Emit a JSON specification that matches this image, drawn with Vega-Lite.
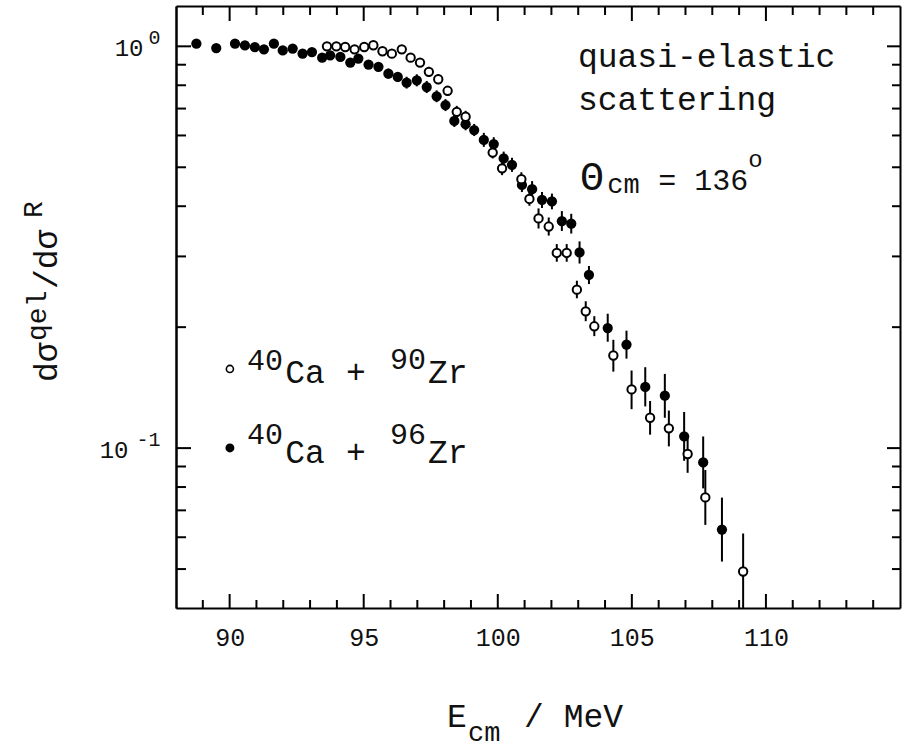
{
  "$schema": "https://vega.github.io/schema/vega-lite/v6.json",
  "width": 724,
  "height": 602,
  "autosize": {"type": "none"},
  "padding": {"left": 176, "top": 6, "right": 2, "bottom": 141},
  "background": "white",
  "config": {
    "view": {"stroke": null},
    "axis": {"grid": false, "domainColor": "#000", "domainWidth": 2, "tickColor": "#000", "tickWidth": 2, "labelFont": "Liberation Mono", "labelColor": "#111"},
    "text": {"font": "Liberation Mono", "color": "#111"}
  },
  "datasets": {
    "pts": [
      {"E":88.76,"R":1.015,"lo":1.015,"hi":1.015,"s":"96"},
      {"E":89.5,"R":0.99,"lo":0.99,"hi":0.99,"s":"96"},
      {"E":90.2,"R":1.015,"lo":0.998,"hi":1.033,"s":"96"},
      {"E":90.57,"R":1.005,"lo":0.988,"hi":1.022,"s":"96"},
      {"E":90.94,"R":0.996,"lo":0.979,"hi":1.013,"s":"96"},
      {"E":91.28,"R":0.983,"lo":0.966,"hi":1.0,"s":"96"},
      {"E":91.65,"R":1.015,"lo":0.998,"hi":1.033,"s":"96"},
      {"E":91.98,"R":0.977,"lo":0.96,"hi":0.994,"s":"96"},
      {"E":92.35,"R":0.987,"lo":0.97,"hi":1.004,"s":"96"},
      {"E":92.72,"R":0.959,"lo":0.943,"hi":0.976,"s":"96"},
      {"E":93.07,"R":0.968,"lo":0.952,"hi":0.985,"s":"96"},
      {"E":93.45,"R":0.937,"lo":0.921,"hi":0.953,"s":"96"},
      {"E":93.75,"R":0.95,"lo":0.934,"hi":0.966,"s":"96"},
      {"E":94.13,"R":0.941,"lo":0.92,"hi":0.963,"s":"96"},
      {"E":94.5,"R":0.911,"lo":0.89,"hi":0.932,"s":"96"},
      {"E":94.8,"R":0.932,"lo":0.911,"hi":0.954,"s":"96"},
      {"E":95.18,"R":0.901,"lo":0.881,"hi":0.922,"s":"96"},
      {"E":95.55,"R":0.889,"lo":0.869,"hi":0.91,"s":"96"},
      {"E":95.92,"R":0.855,"lo":0.831,"hi":0.88,"s":"96"},
      {"E":96.27,"R":0.839,"lo":0.815,"hi":0.863,"s":"96"},
      {"E":96.6,"R":0.812,"lo":0.785,"hi":0.84,"s":"96"},
      {"E":96.98,"R":0.823,"lo":0.795,"hi":0.852,"s":"96"},
      {"E":97.35,"R":0.792,"lo":0.765,"hi":0.82,"s":"96"},
      {"E":97.72,"R":0.751,"lo":0.726,"hi":0.777,"s":"96"},
      {"E":98.05,"R":0.714,"lo":0.69,"hi":0.739,"s":"96"},
      {"E":98.38,"R":0.652,"lo":0.63,"hi":0.675,"s":"96"},
      {"E":98.8,"R":0.64,"lo":0.618,"hi":0.662,"s":"96"},
      {"E":99.12,"R":0.619,"lo":0.598,"hi":0.641,"s":"96"},
      {"E":99.48,"R":0.585,"lo":0.562,"hi":0.609,"s":"96"},
      {"E":99.85,"R":0.571,"lo":0.549,"hi":0.594,"s":"96"},
      {"E":100.22,"R":0.526,"lo":0.505,"hi":0.547,"s":"96"},
      {"E":100.53,"R":0.507,"lo":0.487,"hi":0.528,"s":"96"},
      {"E":100.9,"R":0.452,"lo":0.434,"hi":0.47,"s":"96"},
      {"E":101.28,"R":0.441,"lo":0.421,"hi":0.462,"s":"96"},
      {"E":101.65,"R":0.415,"lo":0.396,"hi":0.434,"s":"96"},
      {"E":102.02,"R":0.411,"lo":0.393,"hi":0.43,"s":"96"},
      {"E":102.39,"R":0.367,"lo":0.347,"hi":0.389,"s":"96"},
      {"E":102.74,"R":0.362,"lo":0.342,"hi":0.383,"s":"96"},
      {"E":103.05,"R":0.307,"lo":0.288,"hi":0.327,"s":"96"},
      {"E":103.4,"R":0.27,"lo":0.256,"hi":0.284,"s":"96"},
      {"E":104.1,"R":0.199,"lo":0.184,"hi":0.216,"s":"96"},
      {"E":104.8,"R":0.181,"lo":0.167,"hi":0.196,"s":"96"},
      {"E":105.5,"R":0.142,"lo":0.127,"hi":0.159,"s":"96"},
      {"E":106.23,"R":0.135,"lo":0.119,"hi":0.153,"s":"96"},
      {"E":106.95,"R":0.107,"lo":0.093,"hi":0.123,"s":"96"},
      {"E":107.66,"R":0.0921,"lo":0.0794,"hi":0.1069,"s":"96"},
      {"E":108.36,"R":0.0627,"lo":0.0522,"hi":0.0753,"s":"96"},
      {"E":93.63,"R":1.0,"lo":0.983,"hi":1.017,"s":"90"},
      {"E":93.98,"R":1.0,"lo":0.983,"hi":1.017,"s":"90"},
      {"E":94.31,"R":0.996,"lo":0.979,"hi":1.013,"s":"90"},
      {"E":94.66,"R":0.983,"lo":0.966,"hi":1.0,"s":"90"},
      {"E":95.02,"R":0.996,"lo":0.979,"hi":1.013,"s":"90"},
      {"E":95.36,"R":1.006,"lo":0.989,"hi":1.023,"s":"90"},
      {"E":95.7,"R":0.972,"lo":0.95,"hi":0.994,"s":"90"},
      {"E":96.05,"R":0.959,"lo":0.937,"hi":0.981,"s":"90"},
      {"E":96.42,"R":0.983,"lo":0.961,"hi":1.006,"s":"90"},
      {"E":96.75,"R":0.937,"lo":0.916,"hi":0.959,"s":"90"},
      {"E":97.1,"R":0.911,"lo":0.89,"hi":0.932,"s":"90"},
      {"E":97.43,"R":0.864,"lo":0.84,"hi":0.889,"s":"90"},
      {"E":97.78,"R":0.828,"lo":0.805,"hi":0.852,"s":"90"},
      {"E":98.13,"R":0.775,"lo":0.753,"hi":0.797,"s":"90"},
      {"E":98.47,"R":0.687,"lo":0.664,"hi":0.711,"s":"90"},
      {"E":98.8,"R":0.668,"lo":0.645,"hi":0.691,"s":"90"},
      {"E":99.81,"R":0.544,"lo":0.526,"hi":0.563,"s":"90"},
      {"E":100.16,"R":0.497,"lo":0.478,"hi":0.517,"s":"90"},
      {"E":100.88,"R":0.467,"lo":0.449,"hi":0.486,"s":"90"},
      {"E":101.18,"R":0.417,"lo":0.401,"hi":0.434,"s":"90"},
      {"E":101.52,"R":0.373,"lo":0.352,"hi":0.395,"s":"90"},
      {"E":101.9,"R":0.356,"lo":0.338,"hi":0.375,"s":"90"},
      {"E":102.2,"R":0.306,"lo":0.291,"hi":0.322,"s":"90"},
      {"E":102.57,"R":0.306,"lo":0.291,"hi":0.322,"s":"90"},
      {"E":102.95,"R":0.248,"lo":0.236,"hi":0.261,"s":"90"},
      {"E":103.28,"R":0.219,"lo":0.207,"hi":0.232,"s":"90"},
      {"E":103.6,"R":0.201,"lo":0.19,"hi":0.213,"s":"90"},
      {"E":104.31,"R":0.17,"lo":0.155,"hi":0.186,"s":"90"},
      {"E":104.99,"R":0.14,"lo":0.125,"hi":0.156,"s":"90"},
      {"E":105.68,"R":0.119,"lo":0.108,"hi":0.131,"s":"90"},
      {"E":106.38,"R":0.112,"lo":0.101,"hi":0.124,"s":"90"},
      {"E":107.08,"R":0.0967,"lo":0.0868,"hi":0.1078,"s":"90"},
      {"E":107.74,"R":0.0754,"lo":0.0644,"hi":0.0882,"s":"90"},
      {"E":109.15,"R":0.0493,"lo":0.0397,"hi":0.0613,"s":"90"}
    ],
    "xTicks": [
      {"v":89,"k":"minor"},{"v":90,"k":"major"},{"v":91,"k":"minor"},{"v":92,"k":"minor"},{"v":93,"k":"minor"},{"v":94,"k":"minor"},
      {"v":95,"k":"major"},{"v":96,"k":"minor"},{"v":97,"k":"minor"},{"v":98,"k":"minor"},{"v":99,"k":"minor"},
      {"v":100,"k":"major"},{"v":101,"k":"minor"},{"v":102,"k":"minor"},{"v":103,"k":"minor"},{"v":104,"k":"minor"},
      {"v":105,"k":"major"},{"v":106,"k":"minor"},{"v":107,"k":"minor"},{"v":108,"k":"minor"},{"v":109,"k":"minor"},
      {"v":110,"k":"major"},{"v":111,"k":"minor"},{"v":112,"k":"minor"},{"v":113,"k":"minor"},{"v":114,"k":"minor"}
    ],
    "yTicks": [
      {"v":0.05,"k":"minor"},{"v":0.06,"k":"minor"},{"v":0.07,"k":"minor"},{"v":0.08,"k":"minor"},{"v":0.09,"k":"minor"},
      {"v":0.1,"k":"major"},{"v":0.2,"k":"minor"},{"v":0.3,"k":"minor"},{"v":0.4,"k":"minor"},{"v":0.5,"k":"minor"},
      {"v":0.6,"k":"minor"},{"v":0.7,"k":"minor"},{"v":0.8,"k":"minor"},{"v":0.9,"k":"minor"},{"v":1,"k":"major"}
    ],
    "bigText": [
      {"x":102.99,"y":0.888,"t":"quasi-elastic"},
      {"x":102.99,"y":0.694,"t":"scattering"},
      {"x":92.07,"y":0.1453,"t":"Ca"},
      {"x":94.34,"y":0.1453,"t":"+"},
      {"x":97.4,"y":0.1453,"t":"Zr"},
      {"x":92.07,"y":0.09184,"t":"Ca"},
      {"x":94.34,"y":0.09184,"t":"+"},
      {"x":97.4,"y":0.09184,"t":"Zr"},
      {"x":98.11,"y":0.0202,"t":"E"},
      {"x":100.98,"y":0.0202,"t":"/ MeV"}
    ],
    "midText": [
      {"x":90.65,"y":0.1565,"t":"40"},
      {"x":95.98,"y":0.1575,"t":"90"},
      {"x":90.65,"y":0.1022,"t":"40"},
      {"x":95.98,"y":0.1025,"t":"96"},
      {"x":105.98,"y":0.4389,"t":"= 136"}
    ],
    "theta": [{"x":103.07,"y":0.4389,"t":"Θ"}],
    "subText": [
      {"x":104.08,"y":0.4315,"t":"cm"},
      {"x":98.89,"y":0.01863,"t":"cm"}
    ],
    "degText": [{"x":109.34,"y":0.5008,"t":"o"}],
    "yTitleBig": [
      {"x":83.56,"y":0.1461,"t":"dσ"},
      {"x":83.56,"y":0.2489,"t":"/dσ"}
    ],
    "yTitleSup": [
      {"x":83.15,"y":0.1848,"t":"qel"},
      {"x":83.0,"y":0.374,"t":"R"}
    ],
    "legOpen": [{"x":90.01,"y":0.1574,"series":"40Ca + 90Zr"}],
    "legFilled": [{"x":90.01,"y":0.1001,"series":"40Ca + 96Zr"}]
  },
  "layer": [
    {
      "data": {"name": "xTicks"},
      "transform": [{"filter": "datum.k == 'major'"}],
      "mark": {"type": "rule", "color": "#000", "strokeWidth": 2, "y2Offset": -14},
      "encoding": {
        "x": {"field": "v", "type": "quantitative", "scale": {"type": "linear", "domain": [88, 115], "nice": false, "zero": false},
              "axis": {"orient": "bottom", "values": [90, 95, 100, 105, 110], "ticks": false, "labelPadding": 17, "labelFontSize": 25, "title": null}},
        "y": {"datum": 0.04, "type": "quantitative", "scale": {"type": "log", "domain": [0.04, 1.26], "nice": false},
              "axis": {"orient": "left", "values": [1], "ticks": false, "labelExpr": "'10'", "labelPadding": 33, "labelFontSize": 24, "labelOffset": 2, "title": null}},
        "y2": {"datum": 0.04}
      }
    },
    {
      "data": {"name": "xTicks"},
      "transform": [{"filter": "datum.k == 'minor'"}],
      "mark": {"type": "rule", "color": "#000", "strokeWidth": 2, "y2Offset": -8},
      "encoding": {
        "x": {"field": "v", "type": "quantitative",
              "axis": {"orient": "top", "values": [90, 110], "ticks": false, "labels": false, "domain": true, "title": null}},
        "y": {"datum": 0.04, "type": "quantitative",
              "axis": {"orient": "left", "values": [0.1], "ticks": false, "labelExpr": "'10'", "labelPadding": 48, "labelFontSize": 24, "labelOffset": 2, "title": null}},
        "y2": {"datum": 0.04}
      }
    },
    {
      "data": {"name": "xTicks"},
      "transform": [{"filter": "datum.k == 'major'"}],
      "mark": {"type": "rule", "color": "#000", "strokeWidth": 2, "y2Offset": 15},
      "encoding": {
        "x": {"field": "v", "type": "quantitative", "axis": null},
        "y": {"datum": 1.26, "type": "quantitative",
              "axis": {"orient": "left", "values": [0.1, 1], "ticks": false, "domain": false, "labelExpr": "datum.value >= 1 ? '0' : '-1'", "labelPadding": 16, "labelFontSize": 20, "labelOffset": -9, "title": null}},
        "y2": {"datum": 1.26}
      }
    },
    {
      "data": {"name": "xTicks"},
      "transform": [{"filter": "datum.k == 'minor'"}],
      "mark": {"type": "rule", "color": "#000", "strokeWidth": 2, "y2Offset": 9},
      "encoding": {
        "x": {"field": "v", "type": "quantitative", "axis": null},
        "y": {"datum": 1.26, "type": "quantitative",
              "axis": {"orient": "right", "values": [0.1, 1], "ticks": false, "labels": false, "domain": true, "title": null}},
        "y2": {"datum": 1.26}
      }
    },
    {
      "data": {"name": "yTicks"},
      "transform": [{"filter": "datum.k == 'major'"}],
      "mark": {"type": "rule", "color": "#000", "strokeWidth": 2, "x2Offset": 15},
      "encoding": {
        "y": {"field": "v", "type": "quantitative", "axis": null},
        "x": {"datum": 88, "type": "quantitative", "axis": null},
        "x2": {"datum": 88}
      }
    },
    {
      "data": {"name": "yTicks"},
      "transform": [{"filter": "datum.k == 'minor'"}],
      "mark": {"type": "rule", "color": "#000", "strokeWidth": 2, "x2Offset": 10},
      "encoding": {
        "y": {"field": "v", "type": "quantitative", "axis": null},
        "x": {"datum": 88, "type": "quantitative", "axis": null},
        "x2": {"datum": 88}
      }
    },
    {
      "data": {"name": "yTicks"},
      "transform": [{"filter": "datum.k == 'major'"}],
      "mark": {"type": "rule", "color": "#000", "strokeWidth": 2, "x2Offset": -13},
      "encoding": {
        "y": {"field": "v", "type": "quantitative", "axis": null},
        "x": {"datum": 115, "type": "quantitative", "axis": null},
        "x2": {"datum": 115}
      }
    },
    {
      "data": {"name": "yTicks"},
      "transform": [{"filter": "datum.k == 'minor'"}],
      "mark": {"type": "rule", "color": "#000", "strokeWidth": 2, "x2Offset": -8},
      "encoding": {
        "y": {"field": "v", "type": "quantitative", "axis": null},
        "x": {"datum": 115, "type": "quantitative", "axis": null},
        "x2": {"datum": 115}
      }
    },
    {
      "data": {"name": "pts"},
      "mark": {"type": "rule", "color": "#000", "strokeWidth": 2, "clip": true},
      "encoding": {
        "x": {"field": "E", "type": "quantitative", "axis": null},
        "y": {"field": "lo", "type": "quantitative", "axis": null},
        "y2": {"field": "hi"}
      }
    },
    {
      "data": {"name": "pts"},
      "transform": [{"filter": "datum.s == '96'"}],
      "mark": {"type": "circle", "color": "#000", "size": 105, "opacity": 1},
      "encoding": {
        "x": {"field": "E", "type": "quantitative", "axis": null},
        "y": {"field": "R", "type": "quantitative", "axis": null}
      }
    },
    {
      "data": {"name": "pts"},
      "transform": [{"filter": "datum.s == '90'"}],
      "mark": {"type": "circle", "fill": "#fff", "stroke": "#000", "strokeWidth": 2, "size": 70, "opacity": 1},
      "encoding": {
        "x": {"field": "E", "type": "quantitative", "axis": null},
        "y": {"field": "R", "type": "quantitative", "axis": null}
      }
    },
    {
      "data": {"name": "bigText"},
      "mark": {"type": "text", "fontSize": 33, "align": "left", "baseline": "alphabetic"},
      "encoding": {
        "x": {"field": "x", "type": "quantitative", "axis": null},
        "y": {"field": "y", "type": "quantitative", "axis": null},
        "text": {"field": "t"}
      }
    },
    {
      "data": {"name": "midText"},
      "mark": {"type": "text", "fontSize": 30, "align": "left", "baseline": "alphabetic"},
      "encoding": {
        "x": {"field": "x", "type": "quantitative", "axis": null},
        "y": {"field": "y", "type": "quantitative", "axis": null},
        "text": {"field": "t"}
      }
    },
    {
      "data": {"name": "theta"},
      "mark": {"type": "text", "fontSize": 40, "align": "left", "baseline": "alphabetic"},
      "encoding": {
        "x": {"field": "x", "type": "quantitative", "axis": null},
        "y": {"field": "y", "type": "quantitative", "axis": null},
        "text": {"field": "t"}
      }
    },
    {
      "data": {"name": "subText"},
      "mark": {"type": "text", "fontSize": 27, "align": "left", "baseline": "alphabetic"},
      "encoding": {
        "x": {"field": "x", "type": "quantitative", "axis": null},
        "y": {"field": "y", "type": "quantitative", "axis": null},
        "text": {"field": "t"}
      }
    },
    {
      "data": {"name": "degText"},
      "mark": {"type": "text", "fontSize": 24, "align": "left", "baseline": "alphabetic"},
      "encoding": {
        "x": {"field": "x", "type": "quantitative", "axis": null},
        "y": {"field": "y", "type": "quantitative", "axis": null},
        "text": {"field": "t"}
      }
    },
    {
      "data": {"name": "yTitleBig"},
      "mark": {"type": "text", "fontSize": 33, "align": "left", "baseline": "alphabetic", "angle": 270},
      "encoding": {
        "x": {"field": "x", "type": "quantitative", "axis": null},
        "y": {"field": "y", "type": "quantitative", "axis": null},
        "text": {"field": "t"}
      }
    },
    {
      "data": {"name": "yTitleSup"},
      "mark": {"type": "text", "fontSize": 28, "align": "left", "baseline": "alphabetic", "angle": 270},
      "encoding": {
        "x": {"field": "x", "type": "quantitative", "axis": null},
        "y": {"field": "y", "type": "quantitative", "axis": null},
        "text": {"field": "t"}
      }
    },
    {
      "data": {"name": "legOpen"},
      "mark": {"type": "circle", "fill": "#fff", "stroke": "#000", "strokeWidth": 1.6, "size": 50, "opacity": 1},
      "encoding": {
        "x": {"field": "x", "type": "quantitative", "axis": null},
        "y": {"field": "y", "type": "quantitative", "axis": null}
      }
    },
    {
      "data": {"name": "legFilled"},
      "mark": {"type": "circle", "color": "#000", "size": 80, "opacity": 1},
      "encoding": {
        "x": {"field": "x", "type": "quantitative", "axis": null},
        "y": {"field": "y", "type": "quantitative", "axis": null}
      }
    }
  ],
  "resolve": {"axis": {"x": "independent", "y": "independent"}}
}
